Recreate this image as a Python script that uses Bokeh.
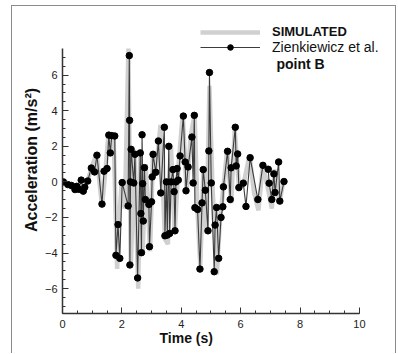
from bokeh.plotting import figure
from bokeh.models import (ColumnDataSource, Range1d, Legend, LegendItem, Label,
                          FixedTicker, Title)
from bokeh.embed import file_html
from bokeh.resources import INLINE

# Experimental data (Zienkiewicz et al., point B)
exp_t = [0.03, 0.18, 0.30, 0.42, 0.48, 0.55, 0.63, 0.70, 0.75, 0.85,
         0.97, 1.08, 1.16, 1.33, 1.40, 1.50, 1.56, 1.61, 1.66, 1.76,
         1.80, 1.87, 1.93, 2.01, 2.21, 2.25, 2.26, 2.27, 2.29, 2.31,
         2.40, 2.44, 2.53, 2.62, 2.64, 2.66, 2.68, 2.70, 2.72, 2.76,
         2.79, 2.91, 2.93, 3.00, 3.02, 3.05, 3.14, 3.23, 3.31, 3.43,
         3.45, 3.50, 3.53, 3.58, 3.61, 3.66, 3.72, 3.76, 3.79, 3.82,
         3.86, 3.90, 3.96, 4.07, 4.13, 4.16, 4.23, 4.36, 4.40, 4.44,
         4.46, 4.55, 4.63, 4.70, 4.74, 4.81, 4.90, 4.93, 4.95, 5.01,
         5.11, 5.14, 5.19, 5.26, 5.34, 5.40, 5.42, 5.56, 5.65, 5.68,
         5.82, 5.85, 5.90, 5.94, 6.09, 6.18, 6.32, 6.58, 6.75, 6.93,
         6.96, 7.05, 7.12, 7.16, 7.28, 7.32, 7.46]
exp_a = [0.00, -0.15, -0.20, -0.43, -0.25, -0.42, 0.10, -0.52, -0.30, 0.05,
         0.78, 0.56, 1.50, -1.25, 0.60, 0.75, 2.63, 1.63, 2.60, 2.58,
         -4.13, -2.40, -4.30, -0.04, -1.35, 7.10, 3.46, -4.67, 0.00, 1.83,
         -0.06, 1.55, -5.40, 1.63, -1.78, -3.98, 2.65, -0.10, -2.20, 0.80,
         -0.99, -1.27, -3.64, -1.12, 0.28, 1.55, 0.54, 2.30, -0.62, 3.07,
         -3.03, 0.00, -2.99, 2.00, -2.90, 0.00, 0.69, -0.55, -2.75, 0.00,
         0.75, 0.10, 1.46, 3.70, 1.12, -0.50, 0.84, 2.52, -0.06, 3.74,
         -1.45, -1.55, -4.90, -1.18, 0.69, -0.47, -2.75, 1.74, 6.15, -0.06,
         -5.05, -2.43, -1.44, -4.30, -2.00, -1.40, -0.28, 1.72, -0.99, 0.79,
         3.07, 0.90, 1.57, -0.32, -0.07, -1.38, 1.36, -0.99, 0.93, 0.71,
         -0.07, -0.99, 0.45, -0.60, 1.12, -1.08, 0.02]

# Simulated series
sim_t = [0.00, 0.20, 0.40, 0.55, 0.70, 0.85, 1.00, 1.15, 1.33, 1.45,
         1.55, 1.62, 1.72, 1.84, 1.90, 2.00, 2.10, 2.22, 2.30, 2.42,
         2.55, 2.62, 2.70, 2.80, 2.95, 3.05, 3.15, 3.30, 3.45, 3.55,
         3.65, 3.78, 3.90, 4.05, 4.18, 4.32, 4.45, 4.55, 4.64, 4.75,
         4.85, 4.95, 5.05, 5.20, 5.30, 5.42, 5.55, 5.68, 5.80, 5.95,
         6.10, 6.30, 6.45, 6.60, 6.75, 6.90, 7.05, 7.15, 7.30, 7.45]
sim_a = [0.00, -0.20, -0.40, -0.30, -0.50, 0.10, 0.90, 1.60, -1.40, 0.70,
         2.75, 1.60, 2.70, -4.90, -2.30, 0.10, -1.50, 7.50, -4.80, 1.80,
         -6.00, 1.80, -4.00, 1.00, -3.90, 1.60, 0.60, 3.20, -3.20, -3.50,
         2.10, -2.90, 0.80, 3.80, -0.60, 2.60, 3.80, -1.70, -4.70, 0.80,
         -2.90, 5.40, -0.20, -5.20, -2.20, -0.30, 1.90, -1.20, 2.90, -0.40,
         -0.10, 1.50, -0.60, -1.60, 1.00, -0.20, -1.50, 0.70, -1.20, 0.10]

x_ticks = [0, 2, 4, 6, 8, 10]
y_ticks = [-6, -4, -2, 0, 2, 4, 6]
x_bounds = (0, 10)
y_bounds = (-7.4, 7.5)

# pixel geometry (page coords): axis x 62..358, y 313..48
PX_X = (358 - 62) / 10.0
PX_Y = (313 - 48) / (y_bounds[1] - y_bounds[0])
CONTENT_LEFT, CONTENT_TOP = 12, 6
FRAME_RIGHT = 396

p = figure(width=385, height=348, output_backend="svg", toolbar_location=None,
           x_range=Range1d(0, 10 + (FRAME_RIGHT - 358) / PX_X),
           y_range=Range1d(y_bounds[0], y_bounds[1] + (48 - CONTENT_TOP) / PX_Y),
           min_border_left=62 - CONTENT_LEFT, min_border_right=0,
           min_border_top=0, min_border_bottom=41)
p.margin = (5, 0, 0, 11)
p.styles = {"border-top": "1px solid #8c8c8c",
            "border-left": "1px solid #8c8c8c",
            "border-right": "1px solid #8c8c8c"}
p.outline_line_color = None
p.grid.visible = False
p.background_fill_color = "white"
p.border_fill_color = "white"

sim_src = ColumnDataSource(dict(t=sim_t, a=sim_a))
exp_src = ColumnDataSource(dict(t=exp_t, a=exp_a))

sim_r = p.line("t", "a", source=sim_src, line_color="#d0d0d0", line_width=4.5)
exp_l = p.line("t", "a", source=exp_src, line_color="#3c3c3c", line_width=1.1)
exp_c = p.scatter("t", "a", source=exp_src, size=6.5, marker="circle",
                  fill_color="black", line_color="black")

for ax in (p.xaxis[0], p.yaxis[0]):
    ax.axis_line_color = "#333333"
    ax.axis_line_width = 1.5
    ax.major_tick_line_color = "#333333"
    ax.minor_tick_line_color = "#333333"
    ax.major_tick_in = 6
    ax.major_tick_out = 0
    ax.minor_tick_in = 3
    ax.minor_tick_out = 0
    ax.major_label_text_font = "Liberation Sans"
    ax.major_label_text_font_size = "11px"
    ax.major_label_text_color = "#222222"
    ax.axis_label_text_font = "Liberation Sans"
    ax.axis_label_text_font_style = "bold"
    ax.axis_label_text_color = "#111111"
    ax.axis_label_standoff = 2

p.yaxis.axis_label_text_font_size = "16px"
p.xaxis.bounds = x_bounds
p.yaxis.bounds = y_bounds
p.xaxis.ticker = FixedTicker(ticks=x_ticks,
                             minor_ticks=[i * 0.5 for i in range(0, 21)])
p.yaxis.ticker = FixedTicker(ticks=y_ticks,
                             minor_ticks=[i * 0.5 for i in range(-14, 15)])
p.xaxis.major_label_standoff = 6
p.yaxis.major_label_standoff = 5
p.yaxis.axis_label = "Acceleration (m/s²)"

# x-axis title, centred under the drawn 0..10 axis rather than the wider frame
p.add_layout(Title(text="Time (s)", align="left", offset=97, standoff=-5,
                   text_font="Liberation Sans", text_font_size="14px",
                   text_font_style="bold", text_color="#111111"), "below")

leg1 = Legend(items=[LegendItem(label="SIMULATED", renderers=[sim_r])],
              location=(138, 274))
leg2 = Legend(items=[LegendItem(label="Zienkiewicz et al.", renderers=[exp_l, exp_c])],
              location=(138, 258))
for lg, style, size in ((leg1, "bold", "13px"), (leg2, "normal", "14px")):
    lg.glyph_width = 60
    lg.glyph_height = 14
    lg.label_height = 14
    lg.label_standoff = 12
    lg.padding = 0
    lg.margin = 0
    lg.spacing = 0
    lg.border_line_color = None
    lg.background_fill_alpha = 0
    lg.label_text_font = "Liberation Sans"
    lg.label_text_font_size = size
    lg.label_text_font_style = style
    lg.label_text_color = "#111111"
    p.add_layout(lg)

p.add_layout(Label(x=214, y=250, x_units="screen", y_units="screen",
                   text="point B", text_font="Liberation Sans",
                   text_font_size="14px", text_font_style="bold",
                   text_color="#111111", text_baseline="middle"))

open("out.html", "w").write(file_html(p, INLINE))
